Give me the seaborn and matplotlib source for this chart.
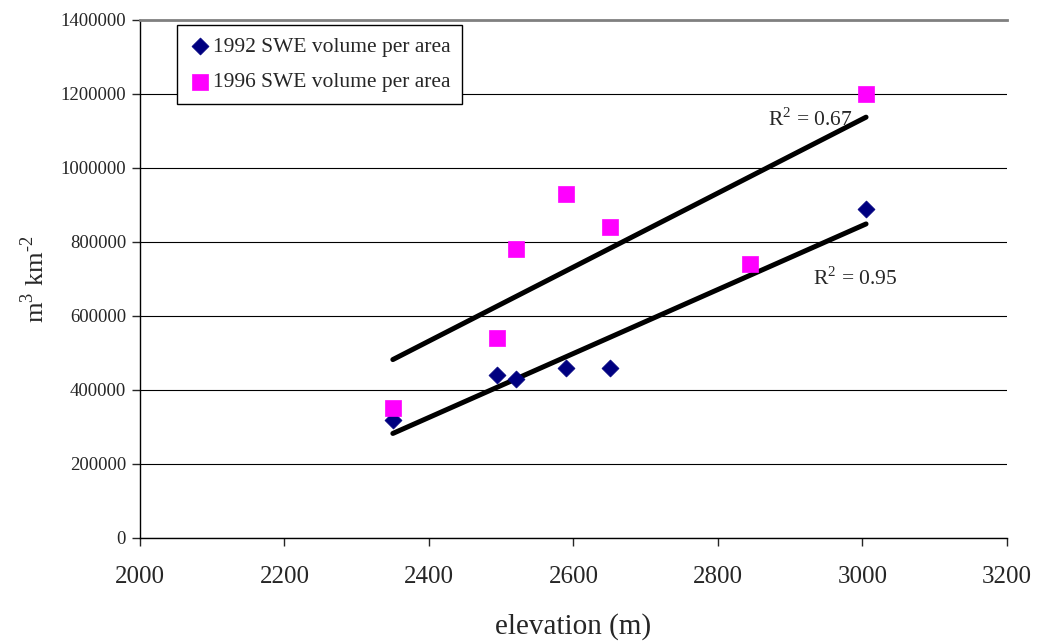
import numpy as np
import pandas as pd
import matplotlib
matplotlib.use('Agg')
import matplotlib.pyplot as plt
import seaborn as sns
from matplotlib.ticker import FuncFormatter

# dados
elev_1992 = [2350, 2494, 2520, 2590, 2650, 3005]
swe_1992 = [320000, 440000, 430000, 460000, 460000, 890000]
elev_1996 = [2350, 2494, 2520, 2590, 2650, 2845, 3005]
swe_1996 = [350000, 540000, 780000, 930000, 840000, 740000, 1200000]
rotulos = ['1992 SWE volume per area', '1996 SWE volume per area']

sns.set_style('white')
plt.rcParams['font.family'] = ['Liberation Serif', 'DejaVu Serif']
plt.rcParams['mathtext.fontset'] = 'custom'
plt.rcParams['mathtext.rm'] = 'Liberation Serif'

d92 = pd.DataFrame({'elev': elev_1992, 'swe': swe_1992})
d96 = pd.DataFrame({'elev': elev_1996, 'swe': swe_1996})

fig = plt.figure(figsize=(10.37, 6.43), dpi=100)
ax = fig.add_axes([0.135, 0.1633, 0.836, 0.8056])

ax.set_axisbelow(True)
ax.grid(axis='y', color='black', lw=0.8)

# linhas de tendencia
sns.regplot(data=d96, x='elev', y='swe', scatter=False, ci=None, ax=ax,
            color='black', line_kws={'lw': 3.6, 'solid_capstyle': 'round'})
sns.regplot(data=d92, x='elev', y='swe', scatter=False, ci=None, ax=ax,
            color='black', line_kws={'lw': 3.6, 'solid_capstyle': 'round'})

sns.scatterplot(data=d92, x='elev', y='swe', marker='D', s=75, color='#000080',
                edgecolor='#000080', linewidth=0.5, ax=ax, label=rotulos[0], zorder=3)
sns.scatterplot(data=d96, x='elev', y='swe', marker='s', s=120, color='#FF00FF',
                edgecolor='#FF00FF', linewidth=0.5, ax=ax, label=rotulos[1], zorder=3)

def r2(x, y):
    return np.corrcoef(x, y)[0, 1] ** 2

ax.text(2869, 1132000, 'R$^{2}$ = %.2f' % r2(elev_1996, swe_1996),
        fontsize=15.5, va='center', ha='left')
ax.text(2931, 700000, 'R$^{2}$ = %.2f' % 0.95,
        fontsize=15.5, va='center', ha='left')

ax.set_xlim(2000, 3200)
ax.set_ylim(0, 1400000)
ax.set_xticks(np.arange(2000, 3201, 200))
ax.set_yticks(np.arange(0, 1400001, 200000))
ax.yaxis.set_major_formatter(FuncFormatter(lambda v, p: '%d' % v))
ax.tick_params(axis='x', labelsize=18, direction='out', length=6, width=1, pad=14, bottom=True)
ax.tick_params(axis='y', labelsize=13.5, direction='out', length=6, width=1, pad=4, left=True)

ax.set_xlabel('elevation (m)', fontsize=21, labelpad=18)
ax.set_ylabel('m$^{3}$ km$^{\\text{-}2}$', fontsize=19, labelpad=8)

for s in ['left', 'bottom']:
    ax.spines[s].set_color('black')
    ax.spines[s].set_linewidth(1)
ax.spines['top'].set_color('#808080')
ax.spines['top'].set_linewidth(2)
ax.spines['right'].set_visible(False)

leg = ax.legend(loc='upper left', bbox_to_anchor=(0.043, 0.99), borderaxespad=0,
                fontsize=15.5, frameon=True, fancybox=False, edgecolor='black',
                framealpha=1, handletextpad=0.1, handlelength=1.0, borderpad=0.55,
                labelspacing=0.7, markerscale=1.0)
leg.get_frame().set_linewidth(1)

fig.savefig('out.png', dpi=100)
